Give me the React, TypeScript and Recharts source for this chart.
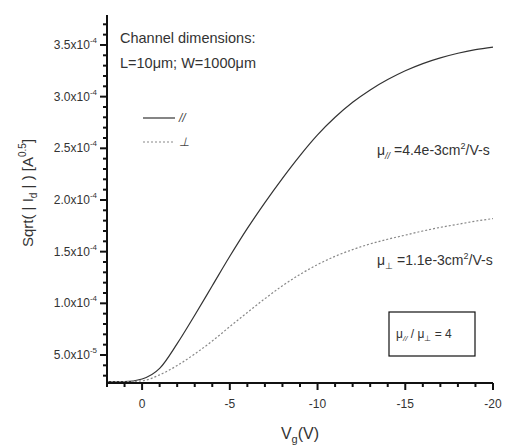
import React from 'react'
import { LineChart, Line, XAxis, YAxis, Legend } from 'recharts'

// gate voltage (V), x axis runs from +2 down to -20
const vg = [2, 1, 0, -1, -2, -3, -4, -5, -6, -7, -8, -9, -10, -11, -12, -13, -14, -15, -16, -17, -18, -19, -20]

// sqrt(|Id|) in A^0.5
const sqrtIdParallel = [
  2.42e-5, 2.42e-5, 2.68e-5, 3.7e-5, 6.1e-5, 8.85e-5, 1.17e-4, 1.455e-4, 1.725e-4, 1.975e-4, 2.21e-4, 2.43e-4,
  2.63e-4, 2.8e-4, 2.945e-4, 3.065e-4, 3.165e-4, 3.25e-4, 3.32e-4, 3.375e-4, 3.42e-4, 3.455e-4, 3.48e-4,
]
const sqrtIdPerp = [
  2.42e-5, 2.42e-5, 2.5e-5, 3.08e-5, 3.98e-5, 5.1e-5, 6.35e-5, 7.75e-5, 9.12e-5, 1.045e-4, 1.17e-4, 1.28e-4,
  1.375e-4, 1.455e-4, 1.52e-4, 1.575e-4, 1.62e-4, 1.66e-4, 1.7e-4, 1.735e-4, 1.765e-4, 1.795e-4, 1.82e-4,
]

const xMajorTicks = [0, -5, -10, -15, -20]
const xTickLabels = ['0', '-5', '-10', '-15', '-20']

const yMajorTicks = [5e-5, 1.0e-4, 1.5e-4, 2.0e-4, 2.5e-4, 3.0e-4, 3.5e-4]
const yTickMantissas = ['5.0x10', '1.0x10', '1.5x10', '2.0x10', '2.5x10', '3.0x10', '3.5x10']
const yTickExponents = ['-5', '-4', '-4', '-4', '-4', '-4', '-4']

const FONT = '"Liberation Sans", Arial, Helvetica, sans-serif'
const INK = '#111'

// minor ticks every 1e-5
const yAllTicks = Array.from({ length: 35 }, (_, i) => (i + 3) * 1e-5)

const data = vg.map((v, i) => ({ vg: v, par: sqrtIdParallel[i], perp: sqrtIdPerp[i] }))

const seriesStyle: Record<string, { dash?: string; color: string }> = {
  par: { color: '#333' },
  perp: { color: '#888', dash: '2 2' },
}

const XTick = (props: any) => {
  const { x, y, payload } = props
  const i = xMajorTicks.indexOf(payload.value)
  const major = i >= 0
  return (
    <g>
      <path d={`M${x},${y}L${x},${y + (major ? 7 : 4)}`} stroke={INK} strokeWidth={2} fill="none" />
      {major && (
        <text x={x} y={y + 25} textAnchor="middle" fontSize={12} fill="#333" fontFamily={FONT}>
          {xTickLabels[i]}
        </text>
      )}
    </g>
  )
}

const YTick = (props: any) => {
  const { x, y, payload } = props
  const i = yMajorTicks.findIndex((t) => Math.abs(t - payload.value) < 1e-9)
  const major = i >= 0
  return (
    <g>
      <path d={`M${x},${y}L${x - (major ? 7 : 4)},${y}`} stroke={INK} strokeWidth={2} fill="none" />
      {major && (
        <text x={x - 10} y={y + 4} textAnchor="end" fontSize={12} fill="#333" fontFamily={FONT}>
          {yTickMantissas[i]}
          <tspan fontSize={8} dy={-6}>{yTickExponents[i]}</tspan>
        </text>
      )}
    </g>
  )
}

const LegendBox = (props: any) => {
  const items = props.payload || []
  return (
    <div style={{ fontFamily: FONT }}>
      {items.map((entry: any) => {
        const s = seriesStyle[entry.dataKey] || { color: entry.color }
        return (
          <div key={entry.dataKey} style={{ display: 'flex', alignItems: 'center', height: 24 }}>
            <svg width={34} height={6}>
              <line x1={0} x2={32} y1={3} y2={3} stroke={s.color} strokeWidth={1.2} strokeDasharray={s.dash} />
            </svg>
            <span style={{ fontSize: 12, color: '#444', fontStyle: 'italic', marginLeft: 2 }}>{entry.value}</span>
          </div>
        )
      })}
    </div>
  )
}

export default function App() {
  return (
    <div style={{ position: 'absolute', left: 0, top: 0, width: 507, height: 445, background: '#fff' }}>
      <LineChart width={507} height={445} data={data} margin={{ top: 15, right: 14, bottom: 0, left: 0 }}>
        <XAxis
          dataKey="vg"
          type="number"
          domain={[-20, 2]}
          reversed
          ticks={vg}
          interval={0}
          height={62}
          tickSize={0}
          tickMargin={0}
          tick={XTick}
          axisLine={{ stroke: INK, strokeWidth: 2 }}
          tickLine={false}
        />
        <YAxis
          type="number"
          domain={[2.29e-5, 3.79e-4]}
          ticks={yAllTicks}
          interval={0}
          width={107}
          tickSize={0}
          tickMargin={0}
          tick={YTick}
          axisLine={{ stroke: INK, strokeWidth: 2 }}
          tickLine={false}
          allowDataOverflow
        />
        <Legend
          layout="vertical"
          align="center"
          verticalAlign="middle"
          content={<LegendBox />}
          wrapperStyle={{ left: 143, top: 106, width: 70, height: 50 }}
        />
        <Line
          type="monotone"
          dataKey="par"
          name="//"
          stroke={seriesStyle.par.color}
          strokeWidth={1.2}
          dot={false}
          isAnimationActive={false}
        />
        <Line
          type="monotone"
          dataKey="perp"
          name="⊥"
          stroke={seriesStyle.perp.color}
          strokeWidth={1.2}
          strokeDasharray={seriesStyle.perp.dash}
          dot={false}
          isAnimationActive={false}
        />
      </LineChart>
      <svg
        width={507}
        height={445}
        style={{ position: 'absolute', left: 0, top: 0, pointerEvents: 'none' }}
        fontFamily={FONT}
        fill="#333"
      >
        <text x={120} y={43} fontSize={14.5}>Channel dimensions:</text>
        <text x={120} y={68} fontSize={14.5}>L=10μm; W=1000μm</text>

        <text x={377} y={155} fontSize={14}>
          μ<tspan fontSize={9} dy={4} fontStyle="italic">//</tspan>
          <tspan dy={-4}> =4.4e-3cm</tspan>
          <tspan fontSize={9} dy={-6}>2</tspan>
          <tspan dy={6}>/V-s</tspan>
        </text>
        <text x={377} y={265} fontSize={14}>
          μ<tspan fontSize={9} dy={4}>⊥</tspan>
          <tspan dy={-4}> =1.1e-3cm</tspan>
          <tspan fontSize={9} dy={-6}>2</tspan>
          <tspan dy={6}>/V-s</tspan>
        </text>

        <rect x={389} y={312} width={86} height={44} fill="none" stroke={INK} strokeWidth={1.2} />
        <text x={396} y={338} fontSize={12}>
          μ<tspan fontSize={8} dy={3} fontStyle="italic">//</tspan>
          <tspan dy={-3}> / μ</tspan>
          <tspan fontSize={8} dy={3}>⊥</tspan>
          <tspan dy={-3}> = 4</tspan>
        </text>

        <text x={300} y={439} fontSize={16} textAnchor="middle">
          V<tspan fontSize={11} dy={4}>g</tspan>
          <tspan dy={-4}>(V)</tspan>
        </text>

        <text x={0} y={0} fontSize={15} textAnchor="middle" transform="translate(33 193) rotate(-90)">
          Sqrt( | I<tspan fontSize={10} dy={4}>d</tspan>
          <tspan dy={-4}> | ) [A</tspan>
          <tspan fontSize={10} dy={-7}>0.5</tspan>
          <tspan dy={7}>]</tspan>
        </text>
      </svg>
    </div>
  )
}
